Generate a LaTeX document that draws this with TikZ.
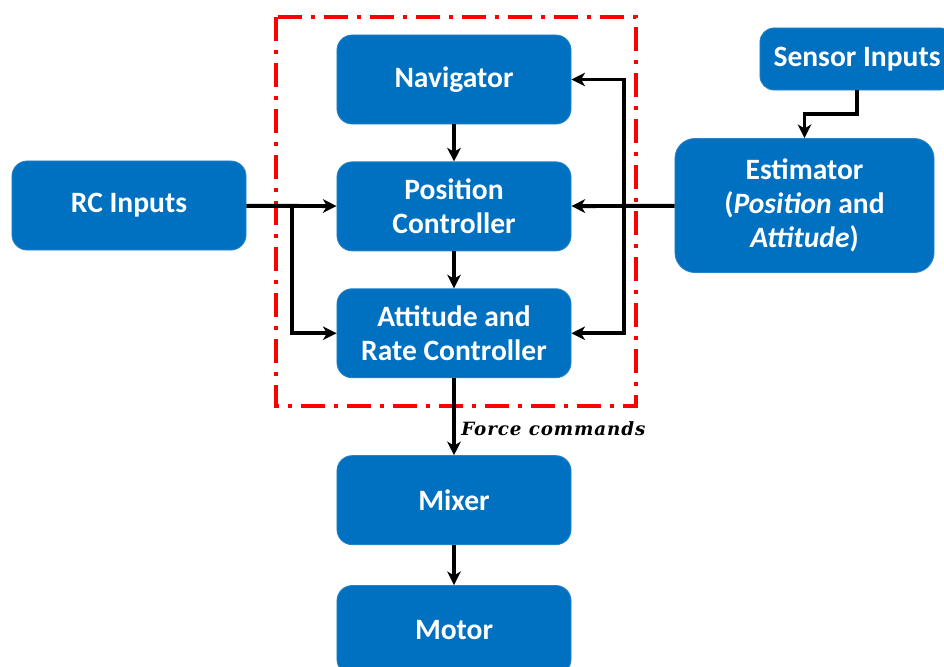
\documentclass[tikz,border=0pt]{standalone}
\usepackage{fontspec}
\newfontfamily\boxfont{Carlito}
\newfontfamily\forcefont[LetterSpace=5]{DejaVu Serif}
\usetikzlibrary{arrows.meta, positioning, calc}
\definecolor{boxblue}{HTML}{0070C0}
\tikzset{
  block/.style={
    rectangle, rounded corners=0.38cm, minimum width=5.85cm, minimum height=2.225cm,
    inner sep=0pt, text centered, align=center, draw=boxblue!85!white, line width=0.6pt,
    fill=boxblue, text=white, font=\boxfont\fontsize{21}{24.2}\selectfont\bfseries
  },
  estblock/.style={
    block, rounded corners=0.5cm, minimum width=6.475cm, minimum height=3.35cm
  },
  sensorblock/.style={
    block, rounded corners=0.35cm, minimum width=4.85cm, minimum height=1.55cm
  },
  arrow/.style={
    line width=2.8pt, color=black,
    -{Stealth[length=0.34cm, width=0.34cm, inset=0.1cm]}
  },
  region/.style={
    draw=red, line width=2.8pt,
    dash pattern=on 0.6cm off 0.225cm on 0.1cm off 0.225cm
  },
  tag/.style={
    right, inner sep=5pt, font=\forcefont\fontsize{13}{15}\selectfont\bfseries\itshape
  }
}

\begin{document}
\begin{tikzpicture}[x=0.025cm, y=-0.025cm]
\clip (0,0) rectangle (944,666);
% controller column
\node[block] (nav) at (454,79.5) {Navigator};
\node[block, below=0.925cm of nav] (pos) {Position\\Controller};
\node[block, below=0.925cm of pos] (att) {Attitude and\\Rate Controller};
\node[block, below=1.925cm of att] (mix) {Mixer};
\node[block, below=1cm of mix] (mot) {Motor};
% inputs
\node[block] (rc) at (129,205.5) {RC Inputs};
\node[estblock] (est) at (804.5,205.5) {Estimator\\(\textit{Position} and\\\textit{Attitude})};
\node[sensorblock] (sen) at (857,59) {Sensor Inputs};
% flight stack border
\draw[region] (276,17) rectangle (636,406);
% connections
\coordinate (rcsplit) at (292,205.5);
\coordinate (estsplit) at (624,205.5);
\draw[arrow] (nav) -- (pos);
\draw[arrow] (pos) -- (att);
\draw[arrow] (rc) -- (pos);
\draw[arrow] (rcsplit) |- (att.west);
\draw[arrow] (est) -- (pos);
\draw[arrow] (estsplit) |- (nav.east);
\draw[arrow] (estsplit) |- (att.east);
\draw[arrow] (sen.south) -- ++(0,23.5) -| (est.north);
\draw[arrow] (att) -- (mix);
\node[tag] (force) at ($(att.south)!0.66!(mix.north)$) {Force commands};
\draw[arrow] (mix) -- (mot);
\end{tikzpicture}
\end{document}
